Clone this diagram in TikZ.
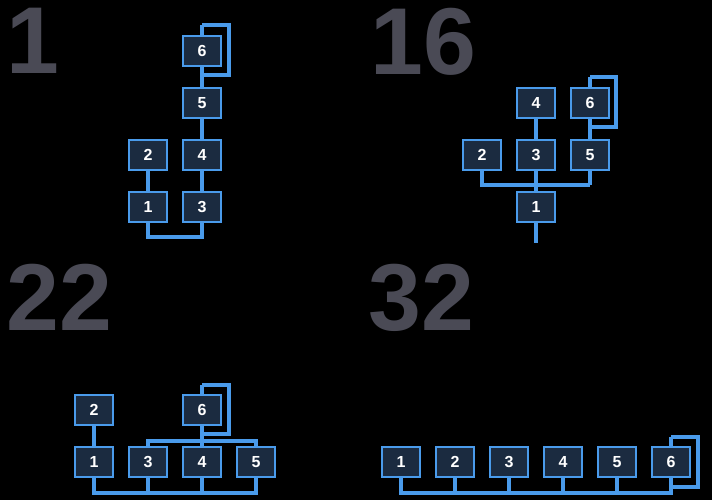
\documentclass[tikz,border=0pt]{standalone}
\usepackage{fontspec}
\setmainfont{Liberation Sans}
\begin{document}
\begin{tikzpicture}[x=1pt,y=-1pt,
 b/.style={draw=lb,fill=bx,line width=2pt,minimum width=38pt,minimum height=30pt,inner sep=0pt,text=white,font=\bfseries\fontsize{16}{16}\selectfont},
 w/.style={draw=lb,line width=3.5pt},
 big/.style={text=gy,font=\bfseries\fontsize{95}{95}\selectfont,anchor=north west,inner sep=0pt}]
\definecolor{lb}{HTML}{4A9BEB}\definecolor{bx}{HTML}{1B2B40}\definecolor{gy}{HTML}{4A4A55}
\fill[black] (0,0) rectangle (712,500);
\node[big] (t1) at (6,8) {1};
\node[big] (t16) at (370,8) {16};
\node[big] (t22) at (6,264) {22};
\node[big] (t32) at (368,264) {32};
% panel 1
\coordinate (a1) at (148,237);\coordinate (a3) at (202,237);
\coordinate (l1) at (202,25);\coordinate (l2) at (229,25);\coordinate (l3) at (229,75);\coordinate (l4) at (202,75);
\draw[w] (l1)--(l2)--(l3)--(l4);
\draw[w] (148,155)--(148,207)--(a1)--(a3)--(202,103)--(202,51);
\draw[w] (l1)--(202,51);
\node[b] (p1n6) at (202,51) {6};
\node[b] (p1n5) at (202,103) {5};
\node[b] (p1n4) at (202,155) {4};
\node[b] (p1n2) at (148,155) {2};
\node[b] (p1n1) at (148,207) {1};
\node[b] (p1n3) at (202,207) {3};
% panel 16
\coordinate (m1) at (590,77);\coordinate (m2) at (616,77);\coordinate (m3) at (616,127);\coordinate (m4) at (590,127);
\coordinate (e) at (536,243);
\draw[w] (m1)--(m2)--(m3)--(m4);
\draw[w] (590,77)--(590,185);
\draw[w] (482,155)--(482,185)--(590,185);
\draw[w] (536,103)--(e);
\node[b] (q4) at (536,103) {4};
\node[b] (q6) at (590,103) {6};
\node[b] (q2) at (482,155) {2};
\node[b] (q3) at (536,155) {3};
\node[b] (q5) at (590,155) {5};
\node[b] (q1) at (536,207) {1};
% panel 22
\draw[w] (202,385)--(229,385)--(229,434)--(202,434);
\draw[w] (202,385)--(202,493);
\draw[w] (148,462)--(148,441)--(256,441)--(256,493)--(94,493)--(94,410);
\draw[w] (148,462)--(148,493);
\node[b] (r2) at (94,410) {2};
\node[b] (r6) at (202,410) {6};
\node[b] (r1) at (94,462) {1};
\node[b] (r3) at (148,462) {3};
\node[b] (r4) at (202,462) {4};
\node[b] (r5) at (256,462) {5};
% panel 32
\draw[w] (671,437)--(698,437)--(698,487)--(671,487);
\draw[w] (671,437)--(671,493)--(401,493)--(401,462);
\foreach \x in {455,509,563,617}{\draw[w] (\x,462)--(\x,493);}
\foreach \i/\x in {1/401,2/455,3/509,4/563,5/617,6/671}{\node[b] (s\i) at (\x,462) {\i};}
\end{tikzpicture}
\end{document}
